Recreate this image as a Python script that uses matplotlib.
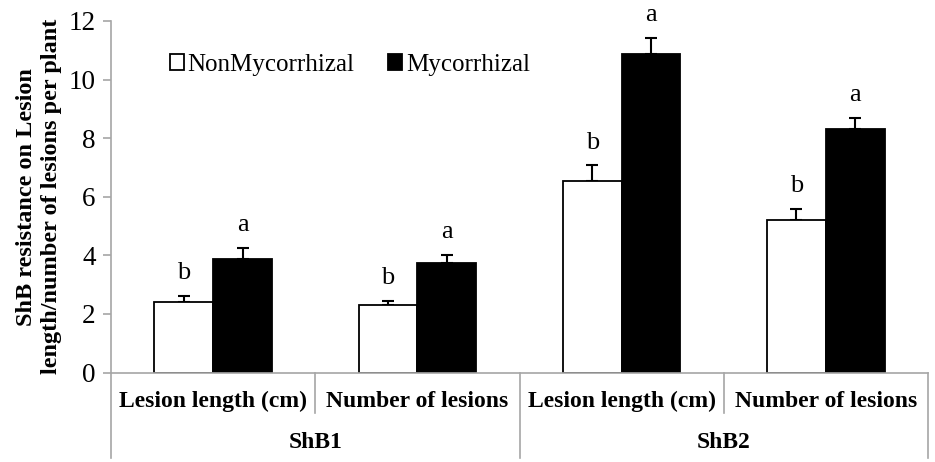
import matplotlib
matplotlib.use("Agg")
import matplotlib.pyplot as plt
import matplotlib.transforms as mtransforms
import numpy as np

plt.rcParams['font.family'] = ['Liberation Serif', 'DejaVu Serif']

categories = ["Lesion length (cm)", "Number of lesions", "Lesion length (cm)", "Number of lesions"]
groups = ["ShB1", "ShB2"]
series_names = ["NonMycorrhizal", "Mycorrhizal"]
nonmyc = [2.42, 2.30, 6.55, 5.20]
nonmyc_err = [0.19, 0.15, 0.52, 0.38]
myc = [3.87, 3.73, 10.87, 8.32]
myc_err = [0.37, 0.28, 0.54, 0.38]
nonmyc_letters = ["b", "b", "b", "b"]
myc_letters = ["a", "a", "a", "a"]
yticks = [0, 2, 4, 6, 8, 10, 12]

fig = plt.figure(figsize=(9.35, 4.62), dpi=100)
ax = fig.add_axes([111/935, 89.5/462, (928-111)/935, 351.5/462])

x = np.arange(len(categories))
w = 0.288
gray = "#a6a6a6"

ax.bar(x - w/2, nonmyc, w, color="white", edgecolor="black", linewidth=1.3,
       label=series_names[0], zorder=2)
ax.bar(x + w/2, myc, w, color="black", edgecolor="black", linewidth=1.3,
       label=series_names[1], zorder=2)
ax.errorbar(x - w/2, nonmyc, yerr=[np.zeros(4), nonmyc_err], fmt="none",
            ecolor="black", elinewidth=1.5, capsize=4.5, capthick=1.5, zorder=1)
ax.errorbar(x + w/2, myc, yerr=[np.zeros(4), myc_err], fmt="none",
            ecolor="black", elinewidth=1.5, capsize=4.5, capthick=1.5, zorder=1)

for xi, v, e, t in zip(x - w/2, nonmyc, nonmyc_err, nonmyc_letters):
    ax.annotate(t, (xi, v + e), xytext=(0, 8.5), textcoords="offset points",
                ha="center", va="bottom", fontsize=19, annotation_clip=False)
for xi, v, e, t in zip(x + w/2, myc, myc_err, myc_letters):
    ax.annotate(t, (xi, v + e), xytext=(0, 8.5), textcoords="offset points",
                ha="center", va="bottom", fontsize=19, annotation_clip=False)

ax.set_xlim(-0.5, len(categories) - 0.5)
ax.set_ylim(0, 12)
ax.set_yticks(yticks)
ax.set_yticklabels([str(t) for t in yticks], fontsize=19.5)
ax.tick_params(axis="y", direction="out", length=6, color=gray, width=1.2, pad=5)
ax.tick_params(axis="x", bottom=False, labelbottom=False)
for s in ["top", "right"]:
    ax.spines[s].set_visible(False)
for s in ["left", "bottom"]:
    ax.spines[s].set_color(gray)
    ax.spines[s].set_linewidth(1.2)

ax.set_ylabel("ShB resistance on Lesion\nlength/number of lesions per plant",
              fontsize=17.5, fontweight="bold", labelpad=5, linespacing=1.2)

trans = mtransforms.blended_transform_factory(ax.transData, ax.transAxes)
for xi, c in zip(x, categories):
    ax.text(xi, -0.083, c, transform=trans, ha="center", va="center",
            fontsize=17, fontweight="bold")
bounds = np.arange(len(categories) + 1) - 0.5
for i, bx in enumerate(bounds):
    ybot = -0.243 if i % 2 == 0 else -0.115
    ax.plot([bx, bx], [0, ybot], transform=trans, color=gray, lw=1.2, clip_on=False)
for gi, g in enumerate(groups):
    ax.text(2 * gi + 0.5, -0.2, g, transform=trans, ha="center", va="center",
            fontsize=17, fontweight="bold")

ax.legend(loc="upper left", bbox_to_anchor=(0.06, 0.935), ncol=2, frameon=False,
          fontsize=18, handlelength=0.55, handleheight=0.55, handletextpad=0.15,
          columnspacing=1.35, borderaxespad=0)

fig.savefig("out.png", dpi=100)
